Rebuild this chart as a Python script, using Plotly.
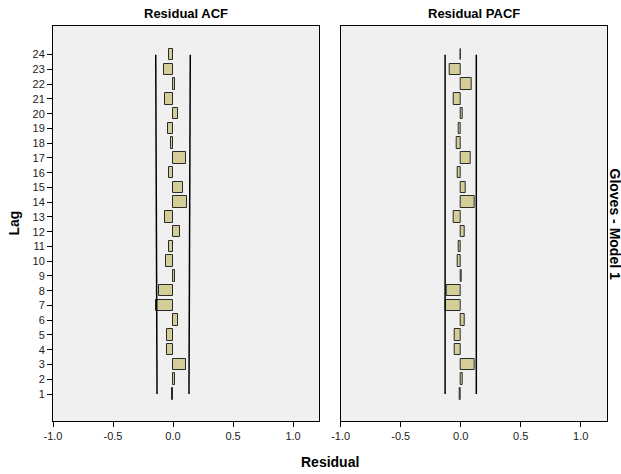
import plotly.graph_objects as go
from plotly.subplots import make_subplots

lags = list(range(1, 25))
acf = [-0.005, 0.015, 0.11, -0.05, -0.05, 0.04, -0.14, -0.12, 0.015, -0.058,
       -0.03, 0.06, -0.063, 0.12, 0.08, -0.03, 0.11, -0.016, -0.04, 0.04,
       -0.07, 0.02, -0.074, -0.03]
pacf = [-0.005, 0.015, 0.113, -0.05, -0.047, 0.03, -0.125, -0.12, 0.008, -0.025,
        -0.015, 0.033, -0.055, 0.116, 0.044, -0.028, 0.085, -0.036, -0.017, 0.017,
        -0.058, 0.088, -0.09, -0.003]
limit_lags = [1, 24]
acf_upper = [0.133, 0.144]
acf_lower = [-0.133, -0.144]
pacf_upper = [0.13, 0.13]
pacf_lower = [-0.13, -0.13]
x_ticks = [-1.0, -0.5, 0.0, 0.5, 1.0]
x_tick_text = ["-1.0", "-0.5", "0.0", "0.5", "1.0"]

FONT = "Liberation Sans, Arial, sans-serif"
BAR_FILL = "#d4cd98"
BAR_LINE = "#2a2a2a"

fig = make_subplots(rows=1, cols=2, shared_yaxes=True, horizontal_spacing=0.0386)

for col, vals, up, lo in [(1, acf, acf_upper, acf_lower), (2, pacf, pacf_upper, pacf_lower)]:
    fig.add_trace(go.Bar(x=vals, y=lags, orientation="h", width=0.78, base=0,
                         marker=dict(color=BAR_FILL, line=dict(color=BAR_LINE, width=1)),
                         showlegend=False, hoverinfo="x+y"), row=1, col=col)
    fig.add_trace(go.Scatter(x=up, y=limit_lags, mode="lines",
                             line=dict(color="black", width=1.5), showlegend=False), row=1, col=col)
    fig.add_trace(go.Scatter(x=lo, y=limit_lags, mode="lines",
                             line=dict(color="black", width=1.5), showlegend=False), row=1, col=col)

axis_common = dict(showgrid=False, zeroline=False, showline=True, linecolor="black",
                   linewidth=1, mirror=True)
for col in (1, 2):
    fig.update_xaxes(range=[-1.0, 1.219], tickvals=x_ticks, ticktext=x_tick_text,
                     ticks="outside", ticklen=5, tickcolor="black",
                     tickfont=dict(family=FONT, size=11, color="#222"),
                     **axis_common, row=1, col=col)
fig.update_yaxes(range=[-0.83, 25.94], tickvals=lags, ticks="outside", ticklen=5,
                 tickcolor="black", tickfont=dict(family=FONT, size=11, color="#222"),
                 **axis_common, row=1, col=1)
fig.update_yaxes(range=[-0.83, 25.94], ticks="", showticklabels=False,
                 **axis_common, row=1, col=2)

fig.update_layout(
    width=621, height=474,
    margin=dict(l=53, r=14, t=26, b=53),
    paper_bgcolor="white", plot_bgcolor="#f0f0f0",
    bargap=0, font=dict(family=FONT, color="black"),
    annotations=[
        dict(text="<b>Residual ACF</b>", xref="paper", yref="paper", x=0.2404, y=1,
             xanchor="center", yanchor="bottom", yshift=3, showarrow=False,
             font=dict(family=FONT, size=13, color="black")),
        dict(text="<b>Residual PACF</b>", xref="paper", yref="paper", x=0.7596, y=1,
             xanchor="center", yanchor="bottom", yshift=3, showarrow=False,
             font=dict(family=FONT, size=13, color="black")),
        dict(text="<b>Residual</b>", xref="paper", yref="paper", x=0.5, y=0,
             xanchor="center", yanchor="middle", yshift=-41, showarrow=False,
             font=dict(family=FONT, size=14, color="black")),
        dict(text="<b>Lag</b>", xref="paper", yref="paper", x=0, y=0.5,
             xanchor="center", yanchor="middle", xshift=-40, textangle=-90, showarrow=False,
             font=dict(family=FONT, size=14, color="black")),
        dict(text="<b>Gloves - Model 1</b>", xref="paper", yref="paper", x=1, y=0.5,
             xanchor="center", yanchor="middle", xshift=8, textangle=90, showarrow=False,
             font=dict(family=FONT, size=14, color="black")),
    ],
)

fig.write_html("out.html", config={"displayModeBar": False},
               post_script="document.body.style.margin='0';")
